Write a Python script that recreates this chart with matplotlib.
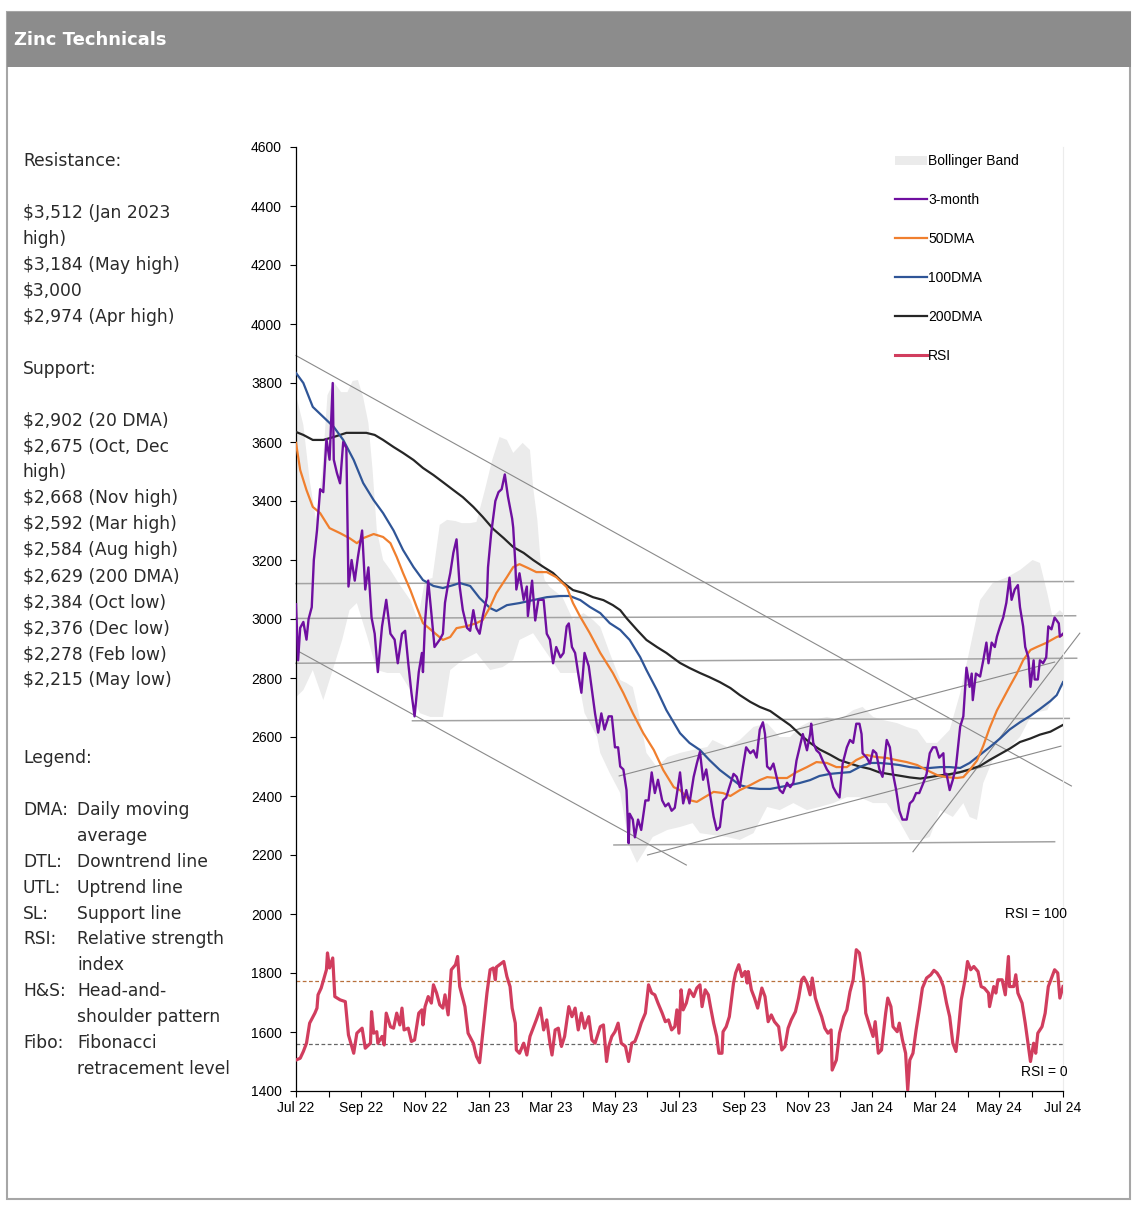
import pandas as pd
import matplotlib.pyplot as plt
import matplotlib.dates as mdates
from matplotlib.patches import Rectangle, Patch
from matplotlib.lines import Line2D

plt.rcParams['font.family'] = ['Liberation Sans', 'DejaVu Sans']

# day offsets from 1 Jul 2022, values in USD/t
start = pd.Timestamp('2022-07-01')

price_day = [0, 2, 4, 7, 10, 12, 15, 17, 20, 23,
             26, 29, 32, 35, 36, 39, 42, 45, 48, 50,
             53, 56, 59, 63, 66, 69, 72, 75, 78, 82,
             86, 90, 94, 97, 101, 104, 107, 110, 113, 117,
             120, 121, 123, 126, 129, 132, 137, 140, 142, 145,
             147, 150, 153, 156, 159, 163, 166, 169, 172, 175,
             178, 182, 183, 186, 190, 193, 196, 199, 202, 206,
             207, 209, 210, 213, 217, 220, 221, 225, 228, 231,
             236, 239, 242, 245, 248, 252, 255, 258, 260, 263,
             266, 269, 272, 275, 279, 282, 285, 288, 291, 294,
             298, 301, 304, 307, 309, 312, 315, 317, 318, 321,
             323, 326, 329, 333, 336, 339, 342, 345, 349, 352,
             355, 358, 361, 364, 366, 369, 372, 375, 379, 382,
             385, 388, 391, 394, 398, 401, 404, 407, 410, 413,
             417, 420, 423, 426, 429, 433, 436, 439, 442, 445,
             447, 449, 452, 455, 458, 461, 464, 468, 471, 474,
             477, 480, 483, 487, 490, 491, 493, 496, 499, 502,
             506, 509, 512, 515, 518, 521, 525, 528, 531, 534,
             537, 539, 540, 544, 547, 550, 553, 556, 559, 563,
             566, 569, 572, 575, 578, 582, 585, 588, 591, 594,
             598, 601, 604, 607, 610, 613, 617, 618, 620, 623,
             626, 629, 633, 636, 639, 642, 644, 645, 648, 652,
             655, 658, 660, 663, 666, 668, 671, 674, 677, 680,
             682, 685, 688, 690, 693, 695, 698, 700, 703, 704,
             707, 709, 712, 715, 717, 720, 723, 727, 728, 731]
price_val = [3050, 2860, 2970, 2990, 2930, 3000, 3040, 3200, 3300, 3440,
             3430, 3610, 3540, 3800, 3540, 3495, 3460, 3600, 3580, 3110,
             3200, 3130, 3210, 3300, 3100, 3175, 3005, 2950, 2820, 2975,
             3065, 2950, 2930, 2850, 2950, 2960, 2850, 2750, 2670, 2820,
             2885, 2820, 2990, 3130, 3020, 2905, 2930, 2950, 3055, 3120,
             3155, 3225, 3270, 3110, 3030, 2970, 2960, 3030, 2970, 2950,
             3010, 3075, 3175, 3290, 3400, 3430, 3440, 3490, 3415, 3340,
             3310, 3190, 3100, 3155, 3065, 3110, 3010, 3130, 2995, 3065,
             3065, 2950, 2930, 2850, 2905, 2870, 2885, 2975, 2985, 2905,
             2885, 2815, 2750, 2885, 2840, 2760, 2680, 2615, 2680, 2625,
             2670, 2670, 2565, 2565, 2500, 2490, 2420, 2240, 2340, 2320,
             2260, 2320, 2285, 2385, 2385, 2480, 2410, 2455, 2385, 2365,
             2375, 2350, 2360, 2430, 2480, 2375, 2420, 2375, 2465, 2510,
             2550, 2455, 2490, 2420, 2330, 2285, 2295, 2385, 2395, 2430,
             2475, 2465, 2430, 2500, 2565, 2545, 2555, 2530, 2625, 2650,
             2610, 2500, 2490, 2510, 2465, 2420, 2410, 2445, 2430, 2445,
             2520, 2565, 2610, 2555, 2610, 2645, 2580, 2555, 2545, 2520,
             2490, 2475, 2430, 2410, 2395, 2510, 2565, 2590, 2580, 2645,
             2645, 2610, 2545, 2530, 2510, 2555, 2545, 2490, 2465, 2590,
             2565, 2475, 2420, 2350, 2320, 2320, 2375, 2385, 2410, 2410,
             2445, 2475, 2545, 2565, 2565, 2530, 2545, 2475, 2475, 2420,
             2455, 2500, 2635, 2670, 2835, 2770, 2815, 2725, 2815, 2805,
             2860, 2920, 2850, 2920, 2905, 2940, 2975, 3005, 3055, 3140,
             3065, 3100, 3115, 3040, 2975, 2905, 2870, 2770, 2860, 2795,
             2795, 2860, 2850, 2870, 2975, 2965, 3005, 2985, 2940, 2950]

ma50_day = [0, 4, 10, 16, 23, 32, 42, 51, 58, 64, 74, 83, 90, 96, 102, 109, 115, 121, 131, 140,
            147, 153, 163, 172, 178, 185, 191, 201, 207, 213, 221, 229, 239, 248, 258, 264, 271, 280, 290, 302,
            312, 321, 331, 341, 350, 360, 366, 375, 382, 388, 398, 407, 414, 423, 433, 442, 449, 458, 468, 477,
            487, 496, 506, 515, 525, 534, 544, 553, 563, 572, 582, 592, 601, 611, 620, 630, 636, 642, 649, 655,
            661, 668, 674, 680, 687, 693, 700, 706, 715, 725, 731]
ma50_val = [3597, 3505, 3437, 3380, 3359, 3308, 3291, 3274, 3257, 3274, 3288, 3278, 3257, 3210, 3156, 3098, 3041, 2986, 2956, 2929,
            2939, 2969, 2976, 2986, 2997, 3041, 3088, 3142, 3176, 3186, 3173, 3159, 3159, 3142, 3108, 3054, 3007, 2952, 2885, 2817,
            2749, 2681, 2613, 2556, 2488, 2430, 2420, 2386, 2380, 2393, 2414, 2410, 2400, 2420, 2437, 2454, 2464, 2461, 2461, 2481,
            2498, 2515, 2512, 2498, 2498, 2522, 2539, 2532, 2529, 2522, 2515, 2505, 2488, 2471, 2464, 2461, 2464, 2488, 2520, 2570,
            2630, 2690, 2730, 2770, 2815, 2860, 2895, 2905, 2919, 2939, 2946]

ma100_day = [0, 7, 16, 26, 36, 45, 55, 64, 74, 83, 93, 102, 112, 121, 131, 140, 150, 156, 166, 175,
             185, 191, 201, 213, 226, 239, 252, 261, 271, 280, 290, 299, 309, 318, 328, 334, 344, 353, 366, 375,
             385, 394, 404, 414, 423, 433, 442, 452, 461, 471, 480, 490, 499, 509, 518, 528, 537, 547, 556, 566,
             575, 585, 595, 604, 614, 623, 633, 642, 652, 661, 671, 680, 690, 700, 709, 719, 725, 731]
ma100_val = [3834, 3800, 3719, 3685, 3651, 3607, 3539, 3461, 3403, 3359, 3300, 3234, 3176, 3132, 3112, 3105, 3115, 3122, 3112, 3071,
             3037, 3027, 3047, 3054, 3064, 3074, 3078, 3078, 3064, 3041, 3020, 2986, 2963, 2929, 2871, 2827, 2759, 2691, 2613, 2580,
             2556, 2522, 2488, 2461, 2437, 2427, 2424, 2424, 2430, 2437, 2444, 2454, 2468, 2475, 2478, 2481, 2498, 2512, 2512, 2509,
             2505, 2498, 2495, 2495, 2498, 2498, 2495, 2512, 2540, 2565, 2595, 2625, 2650, 2672, 2695, 2722, 2742, 2786]

ma200_day = [0, 7, 16, 26, 36, 48, 67, 75, 83, 93, 102, 112, 121, 131, 140, 150, 159, 169, 178, 188,
             198, 207, 217, 226, 236, 245, 255, 264, 274, 283, 293, 302, 309, 315, 325, 334, 344, 353, 366, 375,
             385, 394, 404, 414, 423, 433, 442, 452, 461, 471, 480, 490, 499, 509, 518, 528, 537, 547, 556, 566,
             575, 585, 595, 604, 614, 623, 633, 642, 652, 661, 671, 680, 690, 700, 709, 719, 731]
ma200_val = [3634, 3624, 3607, 3607, 3617, 3631, 3631, 3624, 3607, 3583, 3563, 3539, 3512, 3488, 3464, 3437, 3413, 3380, 3346, 3305,
             3274, 3244, 3224, 3200, 3176, 3156, 3122, 3098, 3088, 3074, 3064, 3047, 3030, 3003, 2963, 2929, 2905, 2885, 2851, 2834,
             2817, 2803, 2786, 2766, 2742, 2719, 2702, 2688, 2665, 2640, 2610, 2580, 2558, 2540, 2522, 2510, 2500, 2492, 2480, 2474,
             2469, 2463, 2459, 2464, 2470, 2474, 2481, 2490, 2502, 2522, 2542, 2560, 2583, 2595, 2608, 2618, 2641]

# Bollinger band edges
bb_up_day = [0, 7, 13, 19, 25, 30, 36, 43, 49, 54, 59, 64, 69, 73, 77, 83, 90, 99, 109, 116,
             123, 130, 137, 144, 152, 158, 166, 172, 180, 187, 194, 201, 207, 216, 223, 226, 230, 233, 237, 242,
             254, 264, 274, 283, 290, 299, 309, 315, 321, 328, 334, 344, 354, 366, 378, 392, 397, 411, 423, 436,
             449, 461, 471, 480, 493, 506, 518, 531, 540, 550, 559, 573, 582, 592, 601, 611, 623, 633, 642, 652,
             664, 678, 690, 702, 709, 716, 721, 728, 731]
bb_up_val = [3759, 3658, 3471, 3336, 3500, 3759, 3803, 3769, 3769, 3807, 3810, 3752, 3664, 3505, 3302, 3200, 3166, 3115, 3064, 2997,
             3132, 3139, 3319, 3336, 3332, 3325, 3325, 3329, 3437, 3539, 3617, 3607, 3563, 3597, 3573, 3447, 3336, 3200, 3132, 3108,
             3074, 2997, 3020, 2997, 2973, 2885, 2793, 2783, 2769, 2658, 2546, 2498, 2532, 2546, 2556, 2566, 2590, 2566, 2590, 2634,
             2647, 2600, 2600, 2634, 2658, 2668, 2658, 2691, 2702, 2668, 2658, 2647, 2634, 2624, 2580, 2580, 2624, 2749, 2895, 3064,
             3122, 3142, 3166, 3200, 3190, 3088, 3007, 3030, 3020]
bb_lo_day = [0, 7, 16, 26, 35, 44, 51, 58, 68, 77, 87, 99, 109, 118, 128, 140, 147, 159, 172, 185,
             197, 207, 213, 226, 237, 252, 268, 275, 287, 290, 299, 309, 318, 325, 331, 340, 354, 366, 378, 385,
             411, 423, 436, 449, 461, 474, 487, 499, 512, 525, 537, 550, 563, 576, 585, 595, 604, 614, 626, 636,
             642, 649, 655, 664, 678, 690, 702, 716, 725, 731]
bb_lo_val = [2735, 2759, 2827, 2725, 2827, 2929, 3030, 3054, 2939, 2827, 2817, 2817, 2759, 2681, 2668, 2668, 2827, 2861, 2885, 2827,
             2837, 2861, 2929, 2952, 2895, 2817, 2817, 2681, 2600, 2546, 2478, 2410, 2227, 2173, 2207, 2261, 2285, 2295, 2308, 2274,
             2261, 2251, 2274, 2363, 2352, 2376, 2352, 2363, 2376, 2396, 2396, 2376, 2376, 2308, 2251, 2251, 2261, 2352, 2329, 2376,
             2329, 2319, 2444, 2522, 2556, 2600, 2681, 2691, 2759, 2770]

# RSI drawn in price units on the lower part of the chart
rsi_day = [0, 4, 7, 10, 13, 18, 20, 21, 24, 29,
           30, 32, 35, 37, 42, 47, 50, 55, 58, 63,
           66, 71, 72, 74, 77, 78, 82, 84, 86, 90,
           93, 96, 99, 101, 103, 107, 110, 113, 117, 120,
           121, 123, 126, 129, 131, 134, 137, 140, 142, 145,
           148, 152, 154, 156, 161, 164, 169, 172, 175, 178,
           182, 185, 188, 190, 191, 194, 198, 201, 204, 206,
           209, 210, 213, 217, 220, 223, 226, 229, 233, 236,
           239, 242, 244, 247, 250, 253, 256, 260, 263, 266,
           269, 272, 275, 279, 282, 285, 290, 293, 296, 298,
           301, 304, 307, 310, 314, 317, 320, 323, 326, 329,
           333, 336, 339, 342, 345, 349, 352, 355, 358, 361,
           363, 365, 367, 369, 372, 375, 379, 382, 385, 387,
           390, 393, 395, 398, 401, 403, 406, 407, 410, 413,
           417, 419, 422, 425, 428, 430, 431, 434, 437, 440,
           442, 444, 447, 450, 453, 456, 460, 463, 466, 469,
           472, 476, 479, 482, 484, 487, 490, 492, 495, 498,
           501, 504, 507, 510, 511, 515, 518, 522, 525, 528,
           531, 534, 537, 541, 543, 547, 550, 552, 555, 558,
           562, 564, 567, 569, 573, 575, 578, 581, 583, 585,
           588, 591, 594, 597, 601, 605, 608, 611, 614, 617,
           620, 623, 626, 629, 631, 634, 638, 640, 643, 646,
           650, 653, 656, 660, 661, 665, 667, 669, 673, 676,
           679, 680, 684, 686, 688, 692, 695, 698, 700, 703,
           705, 707, 711, 714, 717, 720, 723, 726, 728, 731]
rsi_val = [1505, 1511, 1534, 1562, 1630, 1664, 1681, 1726, 1749, 1811,
           1868, 1817, 1851, 1720, 1709, 1703, 1590, 1528, 1596, 1613,
           1545, 1562, 1669, 1596, 1601, 1562, 1585, 1556, 1664, 1618,
           1613, 1664, 1624, 1681, 1607, 1613, 1568, 1573, 1664, 1675,
           1624, 1686, 1720, 1698, 1760, 1732, 1692, 1681, 1726, 1658,
           1811, 1828, 1856, 1754, 1686, 1596, 1562, 1517, 1496, 1596,
           1732, 1811, 1817, 1777, 1820, 1828, 1839, 1788, 1754, 1681,
           1630, 1539, 1528, 1562, 1522, 1585, 1613, 1641, 1681, 1607,
           1641, 1562, 1522, 1607, 1613, 1551, 1585, 1686, 1652, 1681,
           1607, 1664, 1613, 1652, 1573, 1562, 1618, 1624, 1500, 1551,
           1585, 1601, 1630, 1562, 1551, 1500, 1562, 1568, 1596, 1630,
           1664, 1760, 1732, 1726, 1698, 1664, 1635, 1641, 1607, 1618,
           1675, 1596, 1743, 1675, 1698, 1743, 1720, 1749, 1760, 1686,
           1743, 1726, 1686, 1630, 1585, 1528, 1528, 1601, 1618, 1652,
           1766, 1800, 1828, 1788, 1805, 1766, 1805, 1743, 1715, 1681,
           1715, 1749, 1720, 1635, 1658, 1635, 1618, 1539, 1551, 1613,
           1641, 1669, 1715, 1777, 1786, 1766, 1726, 1783, 1715, 1681,
           1652, 1613, 1596, 1607, 1471, 1505, 1596, 1652, 1675, 1737,
           1777, 1879, 1868, 1777, 1664, 1618, 1585, 1635, 1528, 1539,
           1664, 1715, 1686, 1618, 1601, 1630, 1573, 1528, 1403, 1505,
           1528, 1607, 1675, 1749, 1783, 1794, 1809, 1800, 1783, 1754,
           1698, 1652, 1562, 1534, 1596, 1709, 1783, 1839, 1811, 1822,
           1805, 1754, 1749, 1732, 1686, 1754, 1732, 1777, 1777, 1726,
           1856, 1754, 1754, 1794, 1732, 1698, 1630, 1551, 1500, 1562,
           1528, 1596, 1618, 1664, 1754, 1783, 1811, 1800, 1715, 1754]
rsi_hi_level = 1773
rsi_lo_level = 1559

# trend / support lines: (start day, start value, end day, end value)
diag_lines = [(0, 3893, 739, 2434),
              (2, 2891, 372, 2166),
              (335, 2200, 729, 2569),
              (308, 2468, 723, 2854),
              (588, 2211, 747, 2952)]
flat_lines = [(0, 3120, 741, 3127),
              (0, 3002, 743, 3011),
              (0, 2850, 744, 2867),
              (111, 2655, 737, 2663),
              (303, 2234, 723, 2245)]

resistance = ['$3,512 (Jan 2023', 'high)', '$3,184 (May high)', '$3,000', '$2,974 (Apr high)']
support = ['$2,902 (20 DMA)', '$2,675 (Oct, Dec', 'high)', '$2,668 (Nov high)', '$2,592 (Mar high)',
           '$2,584 (Aug high)', '$2,629 (200 DMA)', '$2,384 (Oct low)', '$2,376 (Dec low)',
           '$2,278 (Feb low)', '$2,215 (May low)']
glossary = [('DMA:', 'Daily moving'), ('', 'average'), ('DTL:', 'Downtrend line'),
            ('UTL:', 'Uptrend line'), ('SL:', 'Support line'), ('RSI:', 'Relative strength'),
            ('', 'index'), ('H&S:', 'Head-and-'), ('', 'shoulder pattern'),
            ('Fibo:', 'Fibonacci'), ('', 'retracement level')]

PURPLE = '#6f0fa0'
ORANGE = '#f07f2e'
BLUE = '#2f5597'
BLACK = '#262626'
RSI_COL = '#d13d5e'
BAND = '#ebebeb'


def to_num(days):
    return mdates.date2num(start + pd.to_timedelta(days, unit='D'))


W, H = 1142, 1206
fig = plt.figure(figsize=(W / 100, H / 100), dpi=100)

# header bar and frame
fig.add_artist(Rectangle((7 / W, 1 - 1198.5 / H), 1123 / W, 1186.5 / H, transform=fig.transFigure,
                         fill=False, edgecolor='#a6a6a6', lw=1.5))
fig.add_artist(Rectangle((7 / W, 1 - 67 / H), 1124 / W, 55 / H, transform=fig.transFigure,
                         facecolor='#8c8c8c', edgecolor='none'))
fig.text(14 / W, 1 - 40 / H, 'Zinc Technicals', color='white', fontsize=13, fontweight='bold',
         family='DejaVu Sans', va='center')

# left column text
def side_text(row, s, x=23):
    fig.text(x / W, 1 - (161 + 25.95 * row) / H, s.replace('$', r'\$'), fontsize=12.3,
             family='DejaVu Sans', color='#2a2a2a', va='center')

side_text(0, 'Resistance:')
for i, s in enumerate(resistance):
    side_text(2 + i, s)
side_text(8, 'Support:')
for i, s in enumerate(support):
    side_text(10 + i, s)
side_text(23, 'Legend:')
for i, (term, desc) in enumerate(glossary):
    if term:
        side_text(25 + i, term)
    side_text(25 + i, desc, x=77)

ax = fig.add_axes([296 / W, 1 - 1091 / H, 767 / W, 944 / H])

ax.fill(list(to_num(bb_up_day)) + list(to_num(bb_lo_day))[::-1],
        bb_up_val + bb_lo_val[::-1], color=BAND, lw=0, zorder=1)

for d0, v0, d1, v1 in flat_lines:
    ax.plot(to_num([d0, d1]), [v0, v1], color='#a3a3a3', lw=1.1, zorder=2, clip_on=False)
for d0, v0, d1, v1 in diag_lines:
    ax.plot(to_num([d0, d1]), [v0, v1], color='#8a8a8a', lw=0.8, zorder=2, clip_on=False)

ax.axhline(rsi_hi_level, color='#b8703c', lw=0.9, ls=(0, (3, 2)), zorder=2)
ax.axhline(rsi_lo_level, color='#666666', lw=0.9, ls=(0, (3, 2)), zorder=2)

ax.plot(to_num(ma200_day), ma200_val, color=BLACK, lw=1.6, zorder=3)
ax.plot(to_num(ma100_day), ma100_val, color=BLUE, lw=1.6, zorder=3)
ax.plot(to_num(ma50_day), ma50_val, color=ORANGE, lw=1.6, zorder=3)
ax.plot(to_num(price_day), price_val, color=PURPLE, lw=1.7, zorder=4)
ax.plot(to_num(rsi_day), rsi_val, color=RSI_COL, lw=2.3, zorder=4)

ax.text(to_num(735), 2000, 'RSI = 100', ha='right', va='center', fontsize=10)
ax.text(to_num(735), 1465, 'RSI = 0', ha='right', va='center', fontsize=10)

ax.set_ylim(1400, 4600)
ax.set_xlim(to_num(0), to_num(731))
ax.set_yticks(range(1400, 4601, 200))
ax.xaxis.set_major_locator(mdates.MonthLocator(bymonth=(1, 3, 5, 7, 9, 11)))
ax.xaxis.set_minor_locator(mdates.MonthLocator())
ax.xaxis.set_major_formatter(mdates.DateFormatter('%b %y'))
ax.tick_params(axis='both', which='both', direction='out', length=4, width=0.8, labelsize=10)
ax.tick_params(axis='x', pad=3)
ax.tick_params(axis='y', pad=6)
ax.spines['top'].set_visible(False)
ax.spines['right'].set_color('#ececec')
ax.spines['left'].set_linewidth(0.9)
ax.spines['bottom'].set_linewidth(0.9)

handles = [Patch(facecolor=BAND, edgecolor='none'),
           Line2D([], [], color=PURPLE, lw=1.6),
           Line2D([], [], color=ORANGE, lw=1.6),
           Line2D([], [], color=BLUE, lw=1.6),
           Line2D([], [], color=BLACK, lw=1.6),
           Line2D([], [], color=RSI_COL, lw=2.2)]
labels = ['Bollinger Band', '3-month', '50DMA', '100DMA', '200DMA', 'RSI']
fig.legend(handles, labels, loc='upper left', bbox_to_anchor=(895 / W, 1 - 154 / H),
           frameon=False, fontsize=10, labelspacing=1.8, handlelength=2.3,
           handletextpad=0.1, borderpad=0, borderaxespad=0, handleheight=0.6)

fig.savefig('out.png', dpi=100)
